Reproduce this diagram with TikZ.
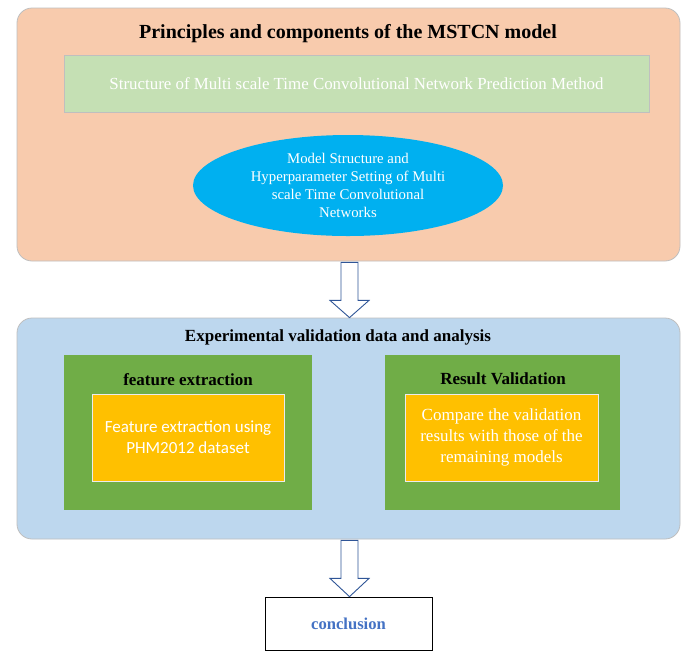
\documentclass[tikz,border=0pt]{standalone}
\usepackage{fontspec}
\setmainfont{Liberation Serif}
\newfontfamily\calibfont{Carlito}
\usetikzlibrary{shapes.geometric,calc}
\definecolor{peach}{HTML}{F8CBAD}
\definecolor{lgreen}{HTML}{C5E0B4}
\definecolor{cyanfill}{HTML}{00B0F0}
\definecolor{lblue}{HTML}{BDD7EE}
\definecolor{dgreen}{HTML}{70AD47}
\definecolor{orangefill}{HTML}{FFC000}
\definecolor{txtblue}{HTML}{4472C4}
\definecolor{arrblue}{HTML}{2F5597}
\definecolor{edgegrey}{HTML}{BFBFBF}
\tikzset{
  bigbox/.style={draw=edgegrey, line width=0.8pt, rounded corners=15pt, inner sep=0pt},
  plainbox/.style={draw=edgegrey, line width=0.6pt, inner sep=0pt},
  titletext/.style={font=\bfseries\fontsize{20}{24}\selectfont, inner sep=0pt},
  subtitle/.style={font=\bfseries\fontsize{17}{20}\selectfont, inner sep=0pt},
  whitetext/.style={text=white, align=center, inner sep=0pt},
  blockarrow/.style={draw=arrblue, fill=white, line width=0.9pt, line join=miter}
}
\begin{document}
\begin{tikzpicture}[x=1pt,y=-1pt]
\useasboundingbox (0,0) rectangle (698,657);
\fill[white] (0,0) rectangle (698,657);
% top group
\node[bigbox, fill=peach, minimum width=663pt, minimum height=253pt] (top) at (348.5,134.5) {};
\node[titletext] (t1) at (348,34) {Principles and components of the MSTCN model};
\node[plainbox, fill=lgreen, minimum width=585pt, minimum height=57pt, whitetext, font=\fontsize{16.9}{20}\selectfont] (struct) at (356.5,83.5) {Structure of Multi scale Time Convolutional Network Prediction Method};
\node[ellipse, fill=cyanfill, minimum width=310pt, minimum height=101pt, whitetext, font=\fontsize{14.8}{18}\selectfont] (ell) at (348,185.5) {Model Structure and\\Hyperparameter Setting of Multi\\scale Time Convolutional\\Networks};
% bottom group
\node[bigbox, fill=lblue, minimum width=663pt, minimum height=221pt] (mid) at (348.5,428.5) {};
\node[subtitle] (t2) at (338,337) {Experimental validation data and analysis};
\node[draw=none, fill=dgreen, minimum width=248pt, minimum height=155pt, inner sep=0pt] (lg) at (188,432.5) {};
\node[subtitle] (lt) at (188,380) {feature extraction};
\node[plainbox, draw=white!85!gray, fill=orangefill, minimum width=192pt, minimum height=87pt, whitetext, font=\calibfont\fontsize{17}{21}\selectfont] (lo) at (188,437.5) {Feature extraction using\\PHM2012 dataset};
\node[draw=none, fill=dgreen, minimum width=235pt, minimum height=155pt, inner sep=0pt] (rg) at (502.5,432.5) {};
\node[subtitle] (rt) at (503,379) {Result Validation};
\node[plainbox, draw=white!85!gray, fill=orangefill, minimum width=193pt, minimum height=87pt, whitetext, font=\fontsize{17}{21}\selectfont] (ro) at (501.5,437.5) {Compare the validation\\results with those of the\\remaining models};
% conclusion
\node[draw=black, line width=0.8pt, fill=white, minimum width=167pt, minimum height=53pt, inner sep=0pt, text=txtblue, font=\bfseries\fontsize{16.6}{20}\selectfont] (conc) at (348.5,623.5) {conclusion};
% arrows
\draw[blockarrow] ($(top.south)+(-7.5,1)$) -- ++(0,38) -- ++(-11,0) -- ($(mid.north)+(1,0)$) -- ($(top.south)+(20.5,39)$) -- ++(-11,0) -- ($(top.south)+(9.5,1)$) -- cycle;
\draw[blockarrow] ($(mid.south)+(-7.5,1)$) -- ++(0,38) -- ++(-11,0) -- ($(conc.north)+(1,0)$) -- ($(mid.south)+(20.5,39)$) -- ++(-11,0) -- ($(mid.south)+(9.5,1)$) -- cycle;
\end{tikzpicture}
\end{document}
